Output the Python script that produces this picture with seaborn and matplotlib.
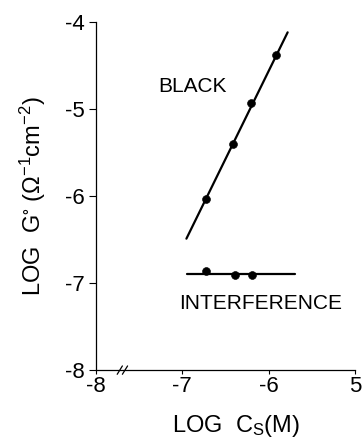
import matplotlib
matplotlib.use("Agg")
import matplotlib.pyplot as plt
import matplotlib.transforms as mtransforms
import seaborn as sns
import pandas as pd

# ---- data ----
black_x = [-6.72, -6.41, -6.20, -5.92]
black_y = [-6.04, -5.40, -4.93, -4.38]
black_line_x = [-6.95, -5.78]
black_line_y = [-6.49, -4.12]

interf_x = [-6.72, -6.39, -6.19]
interf_y = [-6.86, -6.905, -6.905]
interf_line_x = [-6.94, -5.70]
interf_line_y = [-6.90, -6.90]

x_ticks = [-8, -7, -6, -5]
x_ticklabels = ["-8", "-7", "-6", "5"]
y_ticks = [-8, -7, -6, -5, -4]
y_ticklabels = ["-8", "-7", "-6", "-5", "-4"]

# ---- style ----
sns.set_style("ticks")
plt.rcParams["font.family"] = ["Liberation Sans", "DejaVu Sans"]
plt.rcParams["mathtext.default"] = "regular"
plt.rcParams["text.color"] = "black"
plt.rcParams["axes.labelcolor"] = "black"

fig = plt.figure(figsize=(3.62, 4.38), dpi=100)
ax = fig.add_axes([0.264, 0.155, 0.717, 0.795])

pts_black = pd.DataFrame({"x": black_x, "y": black_y})
pts_int = pd.DataFrame({"x": interf_x, "y": interf_y})
ln_black = pd.DataFrame({"x": black_line_x, "y": black_line_y})
ln_int = pd.DataFrame({"x": interf_line_x, "y": interf_line_y})

sns.lineplot(data=ln_black, x="x", y="y", ax=ax, color="black", linewidth=1.6, sort=False)
sns.lineplot(data=ln_int, x="x", y="y", ax=ax, color="black", linewidth=1.6, sort=False)
sns.scatterplot(data=pts_black, x="x", y="y", ax=ax, color="black", s=32, edgecolor="black", zorder=3)
sns.scatterplot(data=pts_int, x="x", y="y", ax=ax, color="black", s=32, edgecolor="black", zorder=3)

ax.set_xlim(-8, -5)
ax.set_ylim(-8, -4)
ax.set_xticks(x_ticks)
ax.set_xticklabels(x_ticklabels)
ax.set_yticks(y_ticks)
ax.set_yticklabels(y_ticklabels)
ax.tick_params(axis="both", labelsize=16, width=0.8, color="black", labelcolor="black")
ax.tick_params(axis="y", length=5, pad=3)
ax.tick_params(axis="x", length=3, pad=1)
sns.despine(ax=ax)
for sp in ("left", "bottom"):
    ax.spines[sp].set_linewidth(0.9)
    ax.spines[sp].set_color("black")

ax.set_xlabel("LOG  C$_S$(M)", fontsize=17, labelpad=12, x=0.54, color="black")
ax.set_ylabel("LOG  G$^{\\circ}$ ($\\Omega^{-1}$cm$^{-2}$)", fontsize=17, labelpad=12, color="black")

ax.text(-7.27, -4.74, "BLACK", fontsize=15, va="center", ha="left", color="black")
ax.text(-7.03, -7.23, "INTERFERENCE", fontsize=15, va="center", ha="left", color="black")

# axis break mark
trans = mtransforms.blended_transform_factory(ax.transData, ax.transAxes)
for dx in (-0.03, 0.03):
    ax.plot([-7.72 + dx, -7.66 + dx], [-0.012, 0.012], transform=trans,
            color="black", linewidth=0.9, clip_on=False)

fig.savefig("out.png", dpi=100)
